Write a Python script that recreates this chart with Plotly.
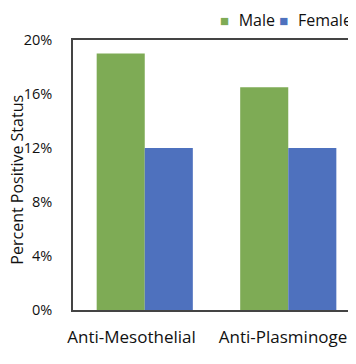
import plotly.graph_objects as go

categories = ["Anti-Mesothelial", "Anti-Plasminogen"]
category_labels = ["Anti-Mesothelial\u00a0\u00a0\u00a0\u00a0\u00a0\u00a0", "Anti-Plasminogen"]
series_names = ["Male", "Female"]
male = [0.19, 0.165]
female = [0.12, 0.12]
tick_vals = [0, 0.04, 0.08, 0.12, 0.16, 0.20]
tick_text = ["0%", "4%", "8%", "12%", "16%", "20%"]
y_title = "Percent Positive Status"
colors = ["#7EAB55", "#4E71BE"]

FONT = "Open Sans, sans-serif"

fig = go.Figure()
fig.add_trace(go.Bar(name=series_names[0], x=categories, y=male, marker_color=colors[0], marker_line_width=0))
fig.add_trace(go.Bar(name=series_names[1], x=categories, y=female, marker_color=colors[1], marker_line_width=0))

legend_text = "\u2009\u200a".join(
    f"<span style='color:{c};font-size:15px'>■</span>\u2002\u200a{n}" for n, c in zip(series_names, colors)
)
fig.add_annotation(text=legend_text, xref="paper", yref="paper", x=0.512, y=1.074,
                   xanchor="left", yanchor="middle", showarrow=False,
                   font=dict(size=16, family=FONT, color="#111111"))

fig.add_annotation(text=y_title, textangle=-90, xref="paper", yref="paper", x=-0.196, y=0.481,
                   xanchor="center", yanchor="middle", showarrow=False,
                   font=dict(size=16, family=FONT, color="#111111"))

fig.update_layout(
    width=348, height=356,
    margin=dict(l=65, r=0, t=32, b=54, autoexpand=False),
    plot_bgcolor="white", paper_bgcolor="white",
    barmode="group", bargap=0.33, bargroupgap=0,
    showlegend=False,
    font=dict(family=FONT, color="#111111", size=14),
    xaxis=dict(range=[-0.5, 1.472], showline=True, mirror=True, linecolor="#444444", linewidth=1.5,
               tickmode="array", tickvals=categories, ticktext=category_labels,
               ticks="", tickfont=dict(size=17), tickangle=0, ticklabelstandoff=11, showgrid=False,
               automargin=False),
    yaxis=dict(range=[0, 0.2], tickvals=tick_vals, ticktext=tick_text, showline=True, mirror=False,
               linecolor="#444444", linewidth=1.5, showgrid=False, zeroline=False,
               tickfont=dict(size=14.5), ticklabelstandoff=16, automargin=False),
)

fig.write_html("out.html")
